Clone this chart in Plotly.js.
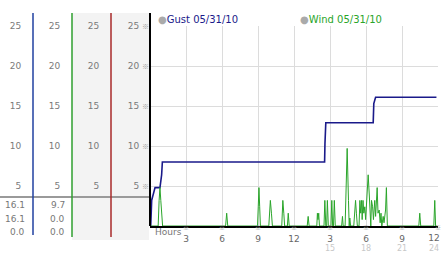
<!DOCTYPE html>
<html>
<head>
<meta charset="utf-8">
<script src="https://cdn.plot.ly/plotly-3.0.1.min.js"></script>
<style>html,body{margin:0;padding:0;background:#fff;}#chart{width:442px;height:253px;}</style>
</head>
<body>
<div id="chart"></div>
<script>
// ---- data ----
const gustHours  = [0, 0.06, 0.14, 0.3, 0.42, 0.83, 0.97, 1.03, 14.55, 14.58, 14.65, 18.6, 18.65, 18.8, 23.87];
const gustValues = [6.0, 0, 3.2, 4.0, 4.8, 4.8, 6.4, 8.0, 8.0, 10.3, 12.9, 12.9, 15.3, 16.1, 16.1];

const windHours = [0, 0.68, 0.76, 0.83, 0.9, 1.05,
  6.3, 6.39, 6.48,
  8.96, 9.02, 9.08, 9.14, 9.2,
  9.9, 9.95, 10.03, 10.12, 10.2,
  10.98, 11.07, 11.15, 11.22,
  11.45, 11.52, 11.6,
  13.1, 13.18, 13.26,
  13.9, 13.95, 14.0, 14.06, 14.12,
  14.5, 14.57, 14.65, 14.72, 14.78, 14.86,
  15.08, 15.15, 15.22, 15.29, 15.36, 15.44,
  15.97, 16.04, 16.1,
  16.26, 16.32, 16.43, 16.54, 16.6, 16.65, 16.72,
  16.98, 17.05, 17.13, 17.2, 17.28,
  17.42, 17.49, 17.56, 17.63, 17.68, 17.75, 17.82, 17.9, 17.97,
  18.1, 18.18, 18.27, 18.34, 18.4, 18.46, 18.55, 18.62, 18.73, 18.8, 18.86, 18.93, 19.0,
  19.1, 19.18, 19.25, 19.32, 19.43, 19.5, 19.57, 19.63, 19.7, 19.78,
  22.4, 22.48, 22.56,
  23.65, 23.73, 23.8, 23.9];
const windValues = [0, 0, 3.2, 4.8, 3.2, 0,
  0, 1.6, 0,
  0, 2.4, 4.8, 2.4, 0,
  0, 1.6, 3.2, 1.6, 0,
  0, 3.2, 1.6, 0,
  0, 1.6, 0,
  0, 1.2, 0,
  0, 1.6, 0.8, 1.6, 0,
  0, 3.2, 0, 0, 3.2, 0,
  0, 3.2, 0, 0, 3.2, 0,
  0, 1.2, 0,
  0, 4.8, 9.7, 3.2, 0, 1.0, 0,
  0, 1.6, 3.2, 1.6, 0,
  0, 3.2, 1.6, 3.2, 0.8, 3.2, 1.6, 2.4, 0.8,
  5.3, 6.4, 4.0, 0.8, 0, 3.2, 2.4, 0.8, 3.2, 1.2, 2.4, 4.8, 1.6,
  2.0, 0.4, 1.6, 0, 1.2, 0.4, 1.2, 2.0, 4.8, 0,
  0, 1.6, 0,
  0, 3.2, 0, 0];

const legendNames = ['Gust 05/31/10', 'Wind 05/31/10'];
const gustSummary = ['16.1', '16.1', '0.0'];
const windSummary = ['9.7', '0.0', '0.0'];

const yTicks = [5, 10, 15, 20, 25];
const xTicks = [3, 6, 9, 12, 15, 18, 21, 24];
const xTicksMain = [3, 6, 9, 12, 15, 18, 21];
const xTickTextMain = ['3', '6', '9', '12', '3', '6', '9'];
const xTicksSecond = [15, 18, 21];
const xTickTextSecond = ['15', '18', '21'];
const xLastTick = [24];
const xLastText = ['12'];
const xLastText2 = ['24'];
const axisTitle = 'Hours';

// ---- layout helpers ----
const W = 438; // paper width in px (442 - right margin)
const px = v => v / W;
const py = y => (226 - y) / 200;

const GUST_COLOR = '#1a1a8a';
const WIND_COLOR = '#2aa52a';
const TICK_COLOR = '#7a7a7a';
const FONT = 'DejaVu Sans';
const MARK_FONT = 'Noto Sans CJK JP';

const traces = [
  {x: gustHours, y: gustValues, type: 'scatter', mode: 'lines', line: {color: GUST_COLOR, width: 1.6}, hoverinfo: 'skip', showlegend: false},
  {x: windHours, y: windValues, type: 'scatter', mode: 'lines', line: {color: WIND_COLOR, width: 1}, hoverinfo: 'skip', showlegend: false}
];
// empty traces that only register the extra axes
['x2', 'x3', 'x4', 'x5'].forEach(a => traces.push({x: [], y: [], xaxis: a, yaxis: 'y', type: 'scatter', showlegend: false}));
['y2', 'y3', 'y4'].forEach(a => traces.push({x: [], y: [], xaxis: 'x', yaxis: a, type: 'scatter', showlegend: false}));

function sideAxis(pos) {
  return {
    overlaying: 'y', anchor: 'free', position: pos, side: 'left',
    range: [0, 25], tickvals: yTicks, ticks: 'outside', ticklen: 10, tickcolor: 'rgba(0,0,0,0)',
    showgrid: false, zeroline: false, showline: false,
    tickfont: {family: FONT, size: 9, color: TICK_COLOR}
  };
}
function bottomAxis(vals, text, len, color, size, extra) {
  return Object.assign({
    overlaying: 'x', anchor: 'y', side: 'bottom', domain: [px(150), 1], range: [0, 24],
    tickvals: vals, ticktext: text,
    ticks: 'outside', ticklen: len, tickcolor: 'rgba(0,0,0,0)', ticklabeloverflow: 'allow',
    showgrid: false, zeroline: false, showline: false,
    tickfont: {family: FONT, size: size, color: color}
  }, extra || {});
}

const mark = '<span style="font-family:\'Noto Sans CJK JP\';font-size:7px;color:#999">※</span>';

const layout = {
  width: 442, height: 253,
  margin: {l: 0, r: 4, t: 26, b: 27, pad: 0},
  paper_bgcolor: '#fff', plot_bgcolor: 'rgba(0,0,0,0)',
  font: {family: FONT, size: 9, color: TICK_COLOR},
  showlegend: false,
  xaxis: {
    domain: [px(150), 1], range: [0, 24], tickvals: xTicksMain, ticktext: xTickTextMain,
    ticks: 'outside', ticklen: 3.5, tickcolor: 'rgba(0,0,0,0)', ticklabeloverflow: 'allow',
    showgrid: true, gridcolor: '#dcdcdc', gridwidth: 1, zeroline: false,
    showline: true, linecolor: '#000', linewidth: 2,
    tickfont: {family: FONT, size: 9, color: '#666'}
  },
  xaxis2: bottomAxis(xTicksSecond, xTickTextSecond, 14.5, '#c8c8c8', 8),
  xaxis3: bottomAxis(xTicks, xTicks.map(() => '※'), 0, '#999', 6, {ticks: '', ticklabelstandoff: -3, tickfont: {family: MARK_FONT, size: 6, color: '#999'}}),
  xaxis4: bottomAxis(xLastTick, xLastText, 3.5, '#666', 9, {ticklabelshift: -4, showgrid: true, gridcolor: '#dcdcdc'}),
  xaxis5: bottomAxis(xLastTick, xLastText2, 14.5, '#c8c8c8', 8, {ticklabelshift: -4}),
  yaxis: {
    range: [0, 25], tickvals: yTicks, ticktext: yTicks.map(v => v + ' ' + mark),
    ticks: '', showgrid: true, gridcolor: '#dcdcdc', gridwidth: 1, zeroline: false, showline: false,
    tickfont: {family: FONT, size: 9, color: TICK_COLOR}
  },
  yaxis2: sideAxis(px(33)),
  yaxis3: sideAxis(px(72)),
  yaxis4: sideAxis(px(111)),
  shapes: [
    {type: 'rect', xref: 'paper', yref: 'paper', x0: px(72), x1: px(149), y0: py(240), y1: py(13), fillcolor: '#f3f3f3', line: {width: 0}, layer: 'below'},
    {type: 'line', xref: 'paper', yref: 'paper', x0: 0, x1: px(149), y0: py(197), y1: py(197), line: {color: '#9a9a9a', width: 2}},
    {type: 'line', xref: 'paper', yref: 'paper', x0: px(33), x1: px(33), y0: py(235), y1: py(13), line: {color: '#2040a0', width: 1.5}},
    {type: 'line', xref: 'paper', yref: 'paper', x0: px(72), x1: px(72), y0: py(237), y1: py(13), line: {color: '#2f9f2f', width: 1.5}},
    {type: 'line', xref: 'paper', yref: 'paper', x0: px(111), x1: px(111), y0: py(237), y1: py(13), line: {color: '#a82a2a', width: 1.5}},
    {type: 'line', xref: 'paper', yref: 'paper', x0: px(150), x1: px(150), y0: 0, y1: py(13), line: {color: '#000', width: 2}}
  ],
  annotations: [
    {xref: 'paper', yref: 'paper', x: px(156), y: py(20), xanchor: 'left', yanchor: 'middle', showarrow: false,
     text: '<span style="color:#aaa">●</span>' + legendNames[0], font: {family: FONT, size: 10, color: GUST_COLOR}},
    {xref: 'paper', yref: 'paper', x: px(298), y: py(20), xanchor: 'left', yanchor: 'middle', showarrow: false,
     text: '<span style="color:#aaa">●</span>' + legendNames[1], font: {family: FONT, size: 10, color: WIND_COLOR}},
    {xref: 'x', yref: 'paper', x: 0, xshift: 3, y: py(232), xanchor: 'left', yanchor: 'middle', showarrow: false,
     text: axisTitle, font: {family: FONT, size: 9, color: '#777'}}
  ]
};

const rowY = [205, 218.5, 232];
gustSummary.forEach((t, i) => layout.annotations.push({xref: 'paper', yref: 'paper', x: px(27), y: py(rowY[i]), xanchor: 'right', yanchor: 'middle', showarrow: false, text: t, font: {family: FONT, size: 9, color: '#777'}}));
windSummary.forEach((t, i) => layout.annotations.push({xref: 'paper', yref: 'paper', x: px(67), y: py(rowY[i]), xanchor: 'right', yanchor: 'middle', showarrow: false, text: t, font: {family: FONT, size: 9, color: '#777'}}));

Plotly.newPlot('chart', traces, layout, {staticPlot: true, displayModeBar: false});
</script>
</body>
</html>
